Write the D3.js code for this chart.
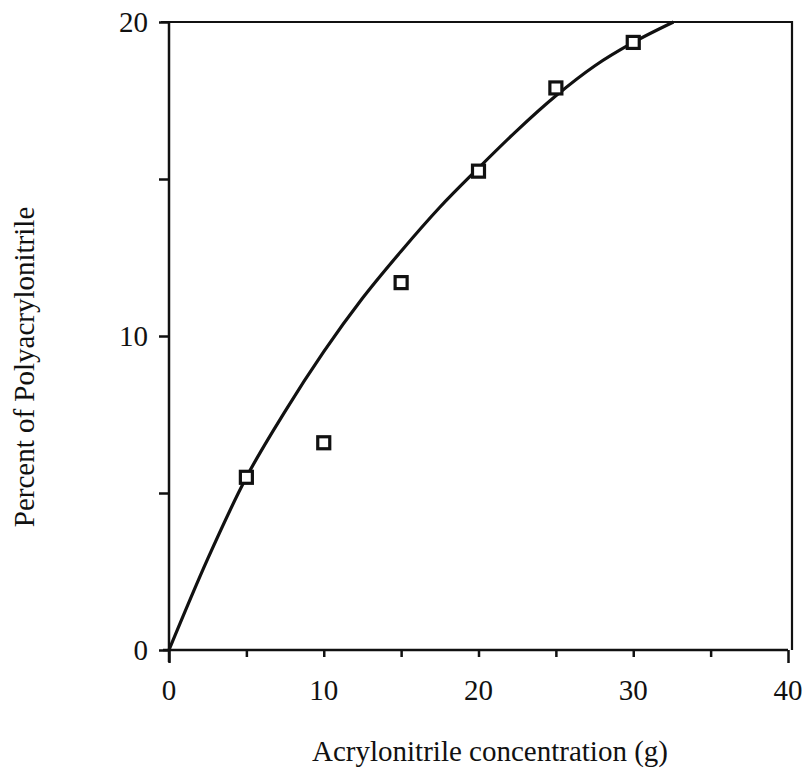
<!DOCTYPE html>
<html>
<head>
<meta charset="utf-8">
<script src="https://cdn.jsdelivr.net/npm/d3@7/dist/d3.min.js"></script>
<style>
  html, body { margin: 0; padding: 0; background: #fff; }
  svg { display: block; }
  text { font-family: "Liberation Serif", "DejaVu Serif", serif; fill: #111; }
</style>
</head>
<body>
<svg id="chart" width="805" height="784"></svg>
<script>
// Measured yield of polyacrylonitrile against monomer charge
const concentration = [5, 10, 15, 20, 25, 30];
const percentPAN = [5.5, 6.6, 11.7, 15.25, 17.9, 19.35];

// Smooth trend curve through the data
const curveX = [0, 2.5, 5, 7.5, 10, 12.5, 15, 17.5, 20, 22.5, 25, 27.5, 30, 32.6];
const curveY = [0, 2.9, 5.5, 7.6, 9.5, 11.2, 12.7, 14.1, 15.35, 16.55, 17.65, 18.6, 19.35, 20.0];

const xTickValues = [0, 5, 10, 15, 20, 25, 30, 35, 40];
const xTickLabels = [0, 10, 20, 30, 40];
const yTickValues = [0, 5, 10, 15, 20];
const yTickLabels = [0, 10, 20];

const svg = d3.select("#chart");
const plotLeft = 169, plotRight = 788, plotTop = 22, plotBottom = 650;

const x = d3.scaleLinear().domain([0, 40]).range([plotLeft, plotRight]);
const y = d3.scaleLinear().domain([0, 20]).range([plotBottom, plotTop]);

// Frame: top and right edges
svg.append("path")
  .attr("d", `M${x(0) - 8},${y(20)} H${x(40) + 4} V${y(0)}`)
  .attr("fill", "none").attr("stroke", "#111").attr("stroke-width", 2.2);

// Bottom axis
const xAxis = svg.append("g").attr("transform", `translate(0,${plotBottom})`)
  .call(d3.axisBottom(x).tickValues(xTickValues).tickSize(7).tickFormat(""));
xAxis.select(".domain").attr("stroke", "#111").attr("stroke-width", 2.5)
  .attr("d", `M${x(0) - 6},0 H${x(40)}`);
xAxis.selectAll(".tick line").attr("stroke", "#111").attr("stroke-width", 2.5);
xAxis.selectAll(".tick").filter(d => d === 0 || d === 40)
  .select("line").attr("y2", 13);

svg.append("g").selectAll("text").data(xTickLabels).join("text")
  .attr("x", d => x(d)).attr("y", 700)
  .attr("text-anchor", "middle")
  .style("font-size", "29px")
  .text(d => d);

// Left axis
const yAxis = svg.append("g").attr("transform", `translate(${plotLeft},0)`)
  .call(d3.axisLeft(y).tickValues(yTickValues).tickSize(10).tickFormat(""));
yAxis.select(".domain").attr("stroke", "#111").attr("stroke-width", 2.5)
  .attr("d", `M0,${y(20)} V${y(0) + 12}`);
yAxis.selectAll(".tick line").attr("stroke", "#111").attr("stroke-width", 2.5);

svg.append("g").selectAll("text").data(yTickLabels).join("text")
  .attr("x", 148).attr("y", d => y(d))
  .attr("dy", "0.35em")
  .attr("text-anchor", "end")
  .style("font-size", "29px")
  .text(d => d);

// Trend curve
const line = d3.line()
  .x(d => x(d[0])).y(d => y(d[1]))
  .curve(d3.curveMonotoneX);
svg.append("path")
  .datum(curveX.map((v, i) => [v, curveY[i]]))
  .attr("d", line)
  .attr("fill", "none").attr("stroke", "#111").attr("stroke-width", 3.2);

// Data markers
svg.append("g").selectAll("rect")
  .data(concentration.map((v, i) => [v, percentPAN[i]]))
  .join("rect")
  .attr("x", d => x(d[0]) - 6).attr("y", d => y(d[1]) - 6)
  .attr("width", 12).attr("height", 12)
  .attr("fill", "#fff").attr("stroke", "#111").attr("stroke-width", 3.2);

// Axis titles
svg.append("text")
  .attr("x", 490).attr("y", 761)
  .attr("text-anchor", "middle")
  .style("font-size", "29px")
  .text("Acrylonitrile concentration (g)");

svg.append("text")
  .attr("transform", "translate(34,367) rotate(-90)")
  .attr("text-anchor", "middle")
  .style("font-size", "29px")
  .text("Percent of Polyacrylonitrile");
</script>
</body>
</html>
